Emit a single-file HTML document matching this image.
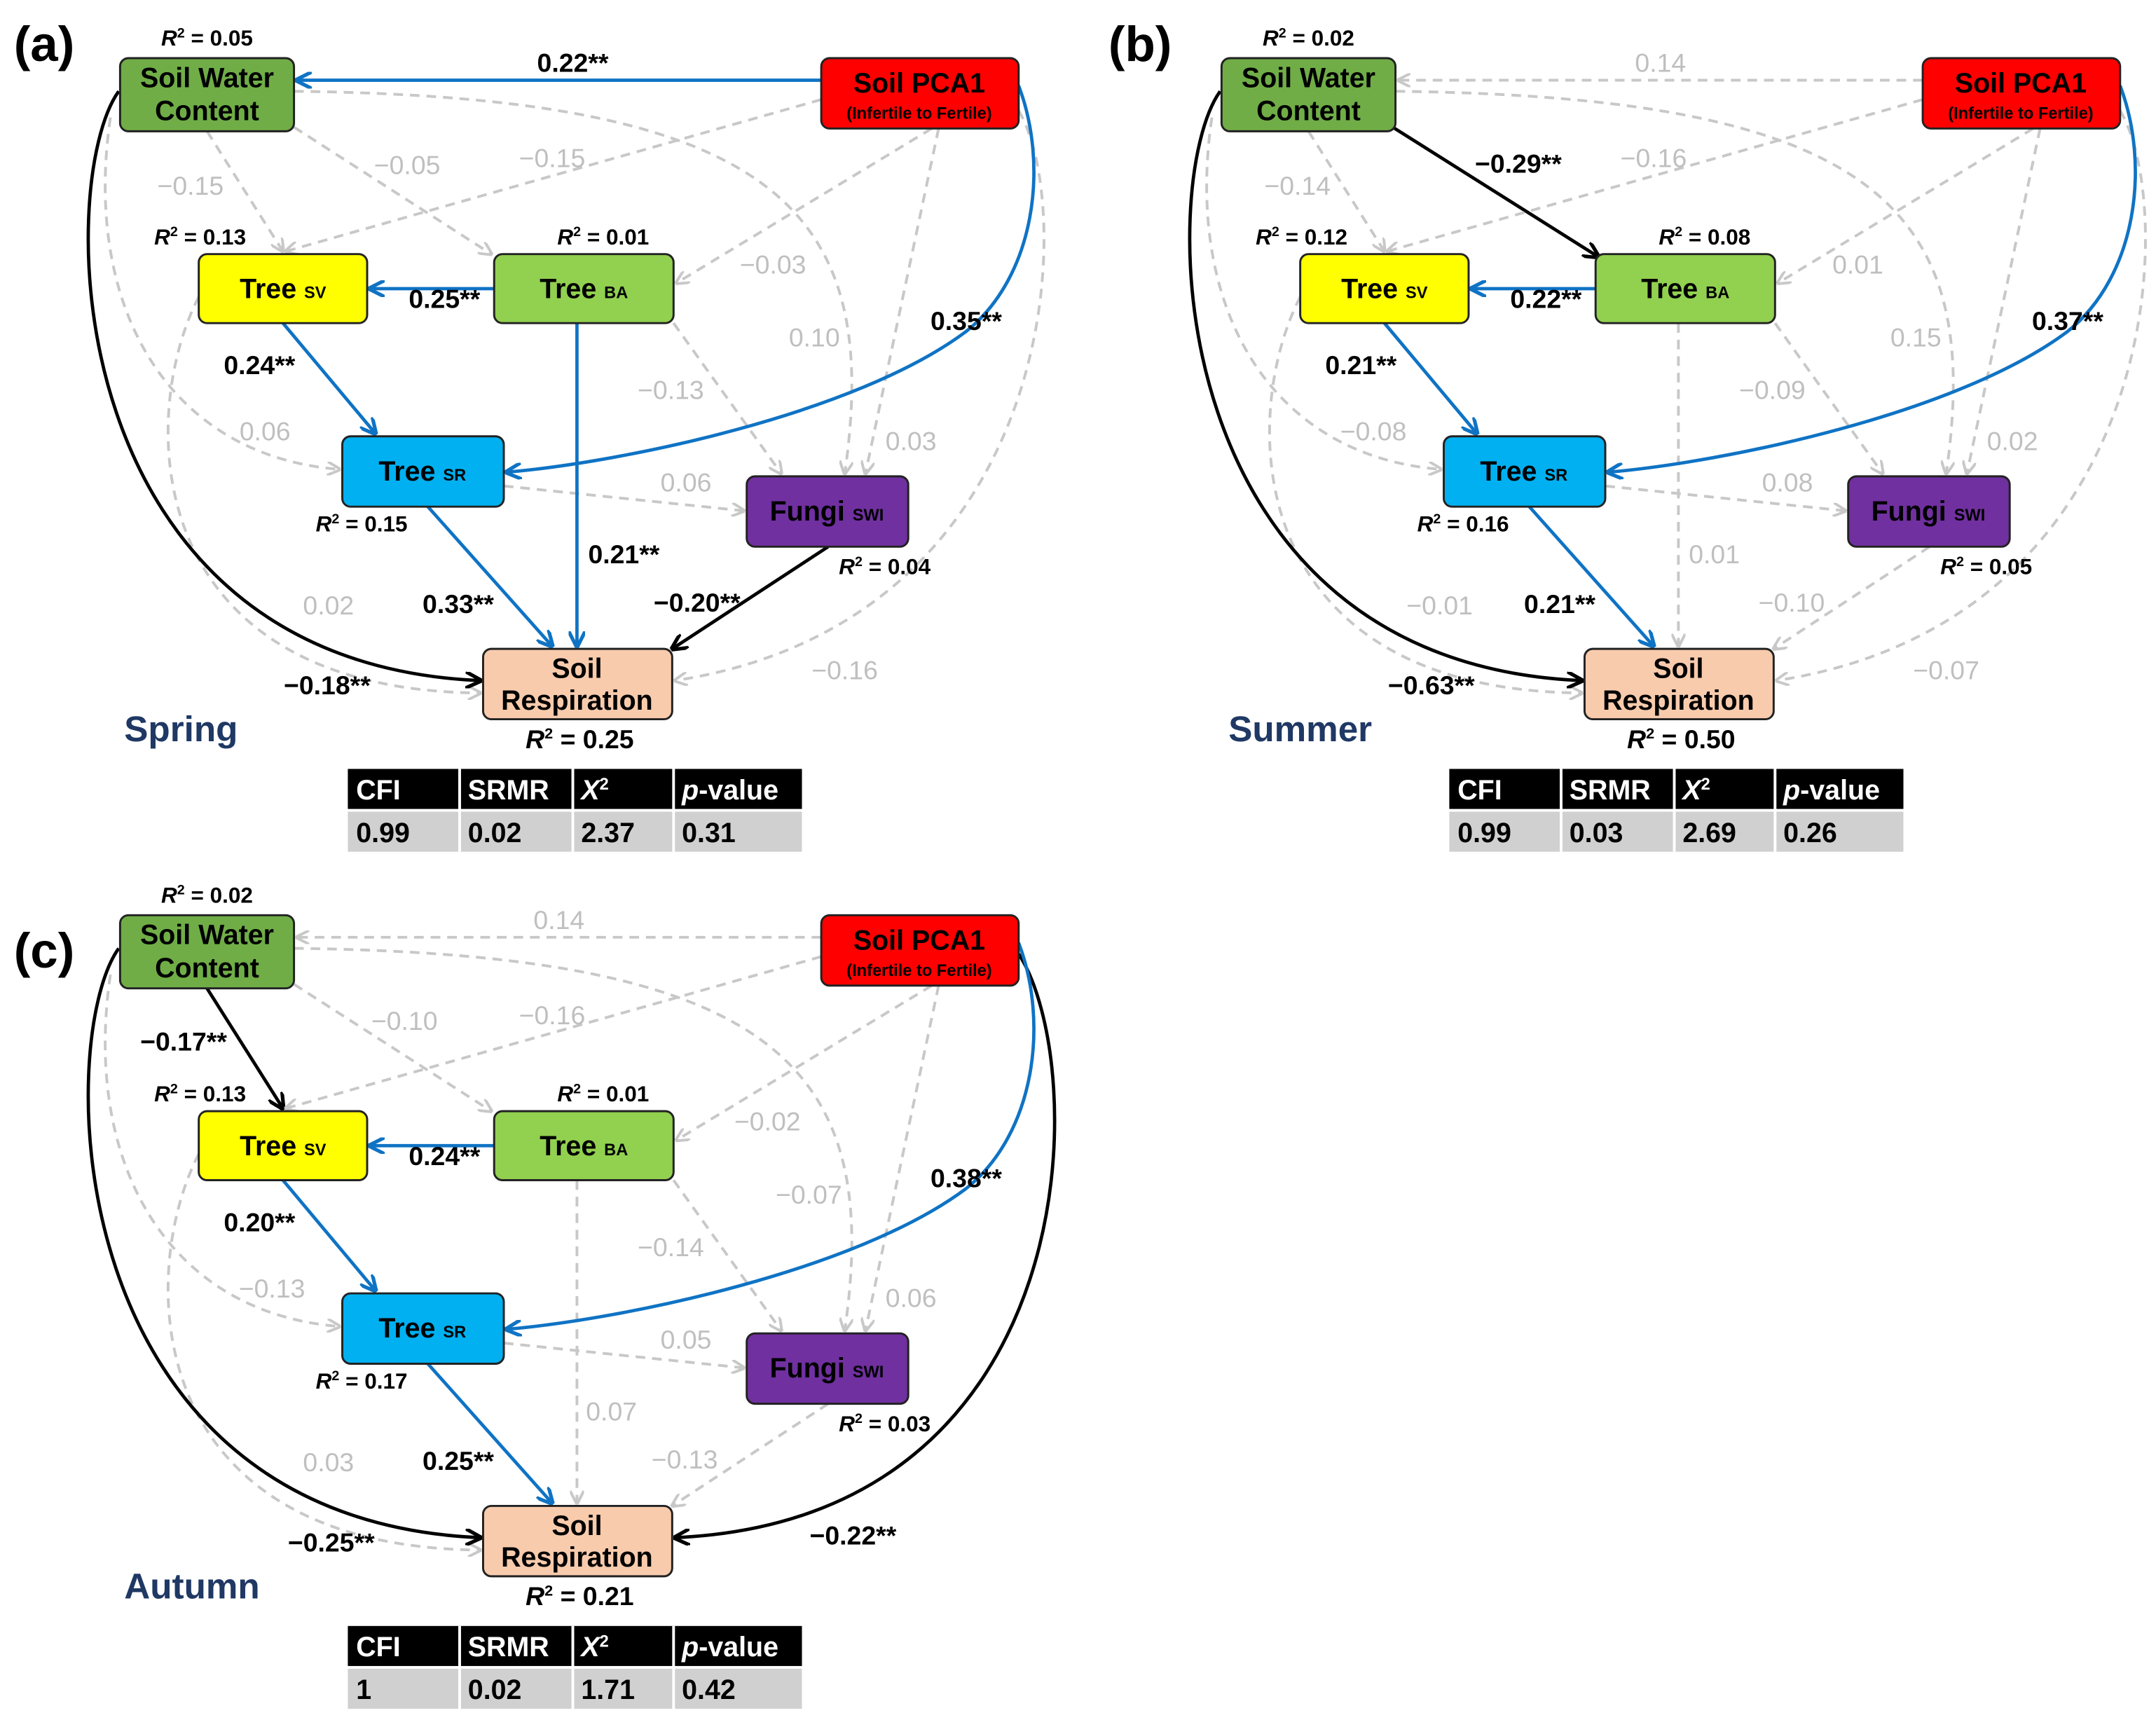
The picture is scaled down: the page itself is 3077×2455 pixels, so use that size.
<!DOCTYPE html>
<html><head><meta charset="utf-8"><style>
html,body{margin:0;padding:0;background:#fff}
svg{display:block}
text{font-family:"Liberation Sans",Arial,sans-serif}
.b{font-weight:bold;fill:#000}
.g{fill:#bfbfbf;font-size:19px}
.k{font-weight:bold;font-size:19px;fill:#000}
.r{font-weight:bold;font-size:16px;fill:#000}
.n{font-weight:bold;font-size:20px}
.s{font-size:12px;font-weight:bold}
.dash{fill:none;stroke:#c8c8c8;stroke-width:2;stroke-dasharray:7,5;marker-end:url(#ag)}
.blue{fill:none;stroke:#0f73c4;stroke-width:2.4;marker-end:url(#ab)}
.blk{fill:none;stroke:#000;stroke-width:2.4;marker-end:url(#ak)}
.th{font-weight:bold;font-size:20px;fill:#fff}
.td{font-weight:bold;font-size:20px;fill:#000}
</style></head><body>
<svg width="3077" height="2455" viewBox="0 0 1562 1246" xmlns="http://www.w3.org/2000/svg">
<defs>
<marker id="ag" viewBox="0 0 10 10" refX="9" refY="5" markerWidth="5" markerHeight="5" orient="auto"><path d="M0,0 L10,5 L0,10" fill="none" stroke="#c8c8c8" stroke-width="2"/></marker>
<marker id="ab" viewBox="0 0 10 10" refX="9" refY="5" markerWidth="5" markerHeight="5" orient="auto"><path d="M0,0 L10,5 L0,10" fill="none" stroke="#0f73c4" stroke-width="2.2"/></marker>
<marker id="ak" viewBox="0 0 10 10" refX="9" refY="5" markerWidth="5" markerHeight="5" orient="auto"><path d="M0,0 L10,5 L0,10" fill="none" stroke="#000" stroke-width="2.2"/></marker>
</defs>

<!-- ========== PANEL A ========== -->
<g>
<text x="10" y="44" class="b" font-size="36">(a)</text>
<path class="blue" d="M595,58 L215,58"/>
<path class="dash" d="M150,95 L205,182"/>
<path class="dash" d="M213,92 L356,184"/>
<path class="dash" d="M595,72 L207,182"/>
<path class="dash" d="M675,93 L490,205"/>
<path class="dash" d="M680,93 L627,343"/>
<path class="dash" d="M213,66 C560,70 640,150 612,343"/>
<path class="dash" d="M80,85 C60,220 120,330 246,340"/>
<path class="dash" d="M144,215 C100,300 100,500 348,502"/>
<path class="blue" d="M358,209 L268,209"/>
<path class="blue" d="M205,234 L272,314"/>
<path class="dash" d="M488,234 L566,343"/>
<path class="dash" d="M365,352 L539,370"/>
<path class="blue" d="M418,234 L418,468"/>
<path class="blue" d="M310,367 L400,468"/>
<path class="blk" d="M600,396 L487,470"/>
<path class="blk" d="M86,66 C40,130 40,480 348,493"/>
<path class="dash" d="M738,80 C780,150 770,450 489,493"/>
<path class="blue" d="M738,62 C760,120 750,200 700,240 C620,300 450,335 367,342"/>

<rect x="87" y="42" width="126" height="53" rx="6" fill="#70ad47" stroke="#222" stroke-width="1.5"/>
<text x="150" y="63" class="n" text-anchor="middle">Soil Water</text><text x="150" y="87" class="n" text-anchor="middle">Content</text>
<rect x="595" y="42" width="143" height="51" rx="6" fill="#ff0000" stroke="#222" stroke-width="1.5"/>
<text x="666" y="67" class="n" text-anchor="middle">Soil PCA1</text><text x="666" y="86" class="s" text-anchor="middle">(Infertile to Fertile)</text>
<rect x="144" y="184" width="122" height="50" rx="6" fill="#ffff00" stroke="#222" stroke-width="1.5"/>
<text x="205" y="216" class="n" text-anchor="middle">Tree <tspan class="s" font-size="13">SV</tspan></text>
<rect x="358" y="184" width="130" height="50" rx="6" fill="#92d050" stroke="#222" stroke-width="1.5"/>
<text x="423" y="216" class="n" text-anchor="middle">Tree <tspan class="s" font-size="13">BA</tspan></text>
<rect x="248" y="316" width="117" height="51" rx="6" fill="#00b0f0" stroke="#222" stroke-width="1.5"/>
<text x="306" y="348" class="n" text-anchor="middle">Tree <tspan class="s" font-size="13">SR</tspan></text>
<rect x="541" y="345" width="117" height="51" rx="6" fill="#7030a0" stroke="#222" stroke-width="1.5"/>
<text x="599" y="377" class="n" text-anchor="middle">Fungi <tspan class="s" font-size="13">SWI</tspan></text>
<rect x="350" y="470" width="137" height="51" rx="6" fill="#f8cbad" stroke="#222" stroke-width="1.5"/>
<text x="418" y="491" class="n" text-anchor="middle">Soil</text><text x="418" y="514" class="n" text-anchor="middle">Respiration</text>

<text x="150" y="33" class="r" text-anchor="middle"><tspan font-style="italic">R</tspan><tspan font-size="10" dy="-6">2</tspan><tspan dy="6"> = 0.05</tspan></text>
<text x="145" y="177" class="r" text-anchor="middle"><tspan font-style="italic">R</tspan><tspan font-size="10" dy="-6">2</tspan><tspan dy="6"> = 0.13</tspan></text>
<text x="437" y="177" class="r" text-anchor="middle"><tspan font-style="italic">R</tspan><tspan font-size="10" dy="-6">2</tspan><tspan dy="6"> = 0.01</tspan></text>
<text x="262" y="385" class="r" text-anchor="middle"><tspan font-style="italic">R</tspan><tspan font-size="10" dy="-6">2</tspan><tspan dy="6"> = 0.15</tspan></text>
<text x="641" y="416" class="r" text-anchor="middle"><tspan font-style="italic">R</tspan><tspan font-size="10" dy="-6">2</tspan><tspan dy="6"> = 0.04</tspan></text>
<text x="420" y="542" class="k" text-anchor="middle"><tspan font-style="italic">R</tspan><tspan font-size="11" dy="-7">2</tspan><tspan dy="7"> = 0.25</tspan></text>

<text x="415" y="52" class="k" text-anchor="middle">0.22**</text>
<text x="138" y="141" class="g" text-anchor="middle">−0.15</text>
<text x="295" y="126" class="g" text-anchor="middle">−0.05</text>
<text x="400" y="121" class="g" text-anchor="middle">−0.15</text>
<text x="560" y="198" class="g" text-anchor="middle">−0.03</text>
<text x="590" y="251" class="g" text-anchor="middle">0.10</text>
<text x="700" y="239" class="k" text-anchor="middle">0.35**</text>
<text x="322" y="223" class="k" text-anchor="middle">0.25**</text>
<text x="188" y="271" class="k" text-anchor="middle">0.24**</text>
<text x="486" y="289" class="g" text-anchor="middle">−0.13</text>
<text x="192" y="319" class="g" text-anchor="middle">0.06</text>
<text x="660" y="326" class="g" text-anchor="middle">0.03</text>
<text x="497" y="356" class="g" text-anchor="middle">0.06</text>
<text x="452" y="408" class="k" text-anchor="middle">0.21**</text>
<text x="238" y="445" class="g" text-anchor="middle">0.02</text>
<text x="332" y="444" class="k" text-anchor="middle">0.33**</text>
<text x="505" y="443" class="k" text-anchor="middle">−0.20**</text>
<text x="237" y="503" class="k" text-anchor="middle">−0.18**</text>
<text x="612" y="492" class="g" text-anchor="middle">−0.16</text>
<text x="90" y="537" font-size="26" font-weight="bold" fill="#1f3864">Spring</text>

<rect x="252" y="557" width="329" height="29" fill="#000"/>
<rect x="252" y="588" width="329" height="29" fill="#d0d0d0"/>
<line x1="333" y1="557" x2="333" y2="617" stroke="#fff" stroke-width="2"/>
<line x1="415" y1="557" x2="415" y2="617" stroke="#fff" stroke-width="2"/>
<line x1="488" y1="557" x2="488" y2="617" stroke="#fff" stroke-width="2"/>
<text x="258" y="579" class="th">CFI</text><text x="339" y="579" class="th">SRMR</text><text x="421" y="579" class="th"><tspan font-style="italic">X</tspan><tspan font-size="12" dy="-7">2</tspan></text><text x="494" y="579" class="th"><tspan font-style="italic">p</tspan>-value</text>
<text x="258" y="610" class="td">0.99</text><text x="339" y="610" class="td">0.02</text><text x="421" y="610" class="td">2.37</text><text x="494" y="610" class="td">0.31</text>
</g>

<!-- ========== PANEL B ========== -->
<g transform="translate(798,0)">
<text x="5" y="44" class="b" font-size="36">(b)</text>
<path class="dash" d="M595,58 L215,58"/>
<path class="dash" d="M150,95 L205,182"/>
<path class="blk" d="M211,92 L360,186"/>
<path class="dash" d="M595,72 L207,182"/>
<path class="dash" d="M675,93 L490,205"/>
<path class="dash" d="M680,93 L627,343"/>
<path class="dash" d="M213,66 C560,70 640,150 612,343"/>
<path class="dash" d="M80,85 C60,220 120,330 246,340"/>
<path class="dash" d="M144,215 C100,300 100,500 348,502"/>
<path class="blue" d="M358,209 L268,209"/>
<path class="blue" d="M205,234 L272,314"/>
<path class="dash" d="M488,234 L566,343"/>
<path class="dash" d="M365,352 L539,370"/>
<path class="dash" d="M418,234 L418,468"/>
<path class="blue" d="M310,367 L400,468"/>
<path class="dash" d="M600,396 L487,470"/>
<path class="blk" d="M86,66 C40,130 40,480 348,493"/>
<path class="dash" d="M738,80 C780,150 770,450 489,493"/>
<path class="blue" d="M738,62 C760,120 750,200 700,240 C620,300 450,335 367,342"/>

<rect x="87" y="42" width="126" height="53" rx="6" fill="#70ad47" stroke="#222" stroke-width="1.5"/>
<text x="150" y="63" class="n" text-anchor="middle">Soil Water</text><text x="150" y="87" class="n" text-anchor="middle">Content</text>
<rect x="595" y="42" width="143" height="51" rx="6" fill="#ff0000" stroke="#222" stroke-width="1.5"/>
<text x="666" y="67" class="n" text-anchor="middle">Soil PCA1</text><text x="666" y="86" class="s" text-anchor="middle">(Infertile to Fertile)</text>
<rect x="144" y="184" width="122" height="50" rx="6" fill="#ffff00" stroke="#222" stroke-width="1.5"/>
<text x="205" y="216" class="n" text-anchor="middle">Tree <tspan class="s" font-size="13">SV</tspan></text>
<rect x="358" y="184" width="130" height="50" rx="6" fill="#92d050" stroke="#222" stroke-width="1.5"/>
<text x="423" y="216" class="n" text-anchor="middle">Tree <tspan class="s" font-size="13">BA</tspan></text>
<rect x="248" y="316" width="117" height="51" rx="6" fill="#00b0f0" stroke="#222" stroke-width="1.5"/>
<text x="306" y="348" class="n" text-anchor="middle">Tree <tspan class="s" font-size="13">SR</tspan></text>
<rect x="541" y="345" width="117" height="51" rx="6" fill="#7030a0" stroke="#222" stroke-width="1.5"/>
<text x="599" y="377" class="n" text-anchor="middle">Fungi <tspan class="s" font-size="13">SWI</tspan></text>
<rect x="350" y="470" width="137" height="51" rx="6" fill="#f8cbad" stroke="#222" stroke-width="1.5"/>
<text x="418" y="491" class="n" text-anchor="middle">Soil</text><text x="418" y="514" class="n" text-anchor="middle">Respiration</text>

<text x="150" y="33" class="r" text-anchor="middle"><tspan font-style="italic">R</tspan><tspan font-size="10" dy="-6">2</tspan><tspan dy="6"> = 0.02</tspan></text>
<text x="145" y="177" class="r" text-anchor="middle"><tspan font-style="italic">R</tspan><tspan font-size="10" dy="-6">2</tspan><tspan dy="6"> = 0.12</tspan></text>
<text x="437" y="177" class="r" text-anchor="middle"><tspan font-style="italic">R</tspan><tspan font-size="10" dy="-6">2</tspan><tspan dy="6"> = 0.08</tspan></text>
<text x="262" y="385" class="r" text-anchor="middle"><tspan font-style="italic">R</tspan><tspan font-size="10" dy="-6">2</tspan><tspan dy="6"> = 0.16</tspan></text>
<text x="641" y="416" class="r" text-anchor="middle"><tspan font-style="italic">R</tspan><tspan font-size="10" dy="-6">2</tspan><tspan dy="6"> = 0.05</tspan></text>
<text x="420" y="542" class="k" text-anchor="middle"><tspan font-style="italic">R</tspan><tspan font-size="11" dy="-7">2</tspan><tspan dy="7"> = 0.50</tspan></text>

<text x="405" y="52" class="g" text-anchor="middle">0.14</text>
<text x="142" y="141" class="g" text-anchor="middle">−0.14</text>
<text x="302" y="125" class="k" text-anchor="middle">−0.29**</text>
<text x="400" y="121" class="g" text-anchor="middle">−0.16</text>
<text x="548" y="198" class="g" text-anchor="middle">0.01</text>
<text x="590" y="251" class="g" text-anchor="middle">0.15</text>
<text x="700" y="239" class="k" text-anchor="middle">0.37**</text>
<text x="322" y="223" class="k" text-anchor="middle">0.22**</text>
<text x="188" y="271" class="k" text-anchor="middle">0.21**</text>
<text x="486" y="289" class="g" text-anchor="middle">−0.09</text>
<text x="197" y="319" class="g" text-anchor="middle">−0.08</text>
<text x="660" y="326" class="g" text-anchor="middle">0.02</text>
<text x="497" y="356" class="g" text-anchor="middle">0.08</text>
<text x="444" y="408" class="g" text-anchor="middle">0.01</text>
<text x="245" y="445" class="g" text-anchor="middle">−0.01</text>
<text x="332" y="444" class="k" text-anchor="middle">0.21**</text>
<text x="500" y="443" class="g" text-anchor="middle">−0.10</text>
<text x="239" y="503" class="k" text-anchor="middle">−0.63**</text>
<text x="612" y="492" class="g" text-anchor="middle">−0.07</text>
<text x="92" y="537" font-size="26" font-weight="bold" fill="#1f3864">Summer</text>

<rect x="252" y="557" width="329" height="29" fill="#000"/>
<rect x="252" y="588" width="329" height="29" fill="#d0d0d0"/>
<line x1="333" y1="557" x2="333" y2="617" stroke="#fff" stroke-width="2"/>
<line x1="415" y1="557" x2="415" y2="617" stroke="#fff" stroke-width="2"/>
<line x1="488" y1="557" x2="488" y2="617" stroke="#fff" stroke-width="2"/>
<text x="258" y="579" class="th">CFI</text><text x="339" y="579" class="th">SRMR</text><text x="421" y="579" class="th"><tspan font-style="italic">X</tspan><tspan font-size="12" dy="-7">2</tspan></text><text x="494" y="579" class="th"><tspan font-style="italic">p</tspan>-value</text>
<text x="258" y="610" class="td">0.99</text><text x="339" y="610" class="td">0.03</text><text x="421" y="610" class="td">2.69</text><text x="494" y="610" class="td">0.26</text>
</g>

<!-- ========== PANEL C ========== -->
<g transform="translate(0,621)">
<text x="10" y="80" class="b" font-size="36">(c)</text>
<path class="dash" d="M595,58 L215,58"/>
<path class="blk" d="M150,95 L205,182"/>
<path class="dash" d="M213,92 L356,184"/>
<path class="dash" d="M595,72 L207,182"/>
<path class="dash" d="M675,93 L490,205"/>
<path class="dash" d="M680,93 L627,343"/>
<path class="dash" d="M213,66 C560,70 640,150 612,343"/>
<path class="dash" d="M80,85 C60,220 120,330 246,340"/>
<path class="dash" d="M144,215 C100,300 100,500 348,502"/>
<path class="blue" d="M358,209 L268,209"/>
<path class="blue" d="M205,234 L272,314"/>
<path class="dash" d="M488,234 L566,343"/>
<path class="dash" d="M365,352 L539,370"/>
<path class="dash" d="M418,234 L418,468"/>
<path class="blue" d="M310,367 L400,468"/>
<path class="dash" d="M600,396 L487,470"/>
<path class="blk" d="M86,66 C40,130 40,480 348,493"/>
<path class="blk" d="M738,70 C790,150 790,480 489,493"/>
<path class="blue" d="M738,62 C760,120 750,200 700,240 C620,300 450,335 367,342"/>

<rect x="87" y="42" width="126" height="53" rx="6" fill="#70ad47" stroke="#222" stroke-width="1.5"/>
<text x="150" y="63" class="n" text-anchor="middle">Soil Water</text><text x="150" y="87" class="n" text-anchor="middle">Content</text>
<rect x="595" y="42" width="143" height="51" rx="6" fill="#ff0000" stroke="#222" stroke-width="1.5"/>
<text x="666" y="67" class="n" text-anchor="middle">Soil PCA1</text><text x="666" y="86" class="s" text-anchor="middle">(Infertile to Fertile)</text>
<rect x="144" y="184" width="122" height="50" rx="6" fill="#ffff00" stroke="#222" stroke-width="1.5"/>
<text x="205" y="216" class="n" text-anchor="middle">Tree <tspan class="s" font-size="13">SV</tspan></text>
<rect x="358" y="184" width="130" height="50" rx="6" fill="#92d050" stroke="#222" stroke-width="1.5"/>
<text x="423" y="216" class="n" text-anchor="middle">Tree <tspan class="s" font-size="13">BA</tspan></text>
<rect x="248" y="316" width="117" height="51" rx="6" fill="#00b0f0" stroke="#222" stroke-width="1.5"/>
<text x="306" y="348" class="n" text-anchor="middle">Tree <tspan class="s" font-size="13">SR</tspan></text>
<rect x="541" y="345" width="117" height="51" rx="6" fill="#7030a0" stroke="#222" stroke-width="1.5"/>
<text x="599" y="377" class="n" text-anchor="middle">Fungi <tspan class="s" font-size="13">SWI</tspan></text>
<rect x="350" y="470" width="137" height="51" rx="6" fill="#f8cbad" stroke="#222" stroke-width="1.5"/>
<text x="418" y="491" class="n" text-anchor="middle">Soil</text><text x="418" y="514" class="n" text-anchor="middle">Respiration</text>

<text x="150" y="33" class="r" text-anchor="middle"><tspan font-style="italic">R</tspan><tspan font-size="10" dy="-6">2</tspan><tspan dy="6"> = 0.02</tspan></text>
<text x="145" y="177" class="r" text-anchor="middle"><tspan font-style="italic">R</tspan><tspan font-size="10" dy="-6">2</tspan><tspan dy="6"> = 0.13</tspan></text>
<text x="437" y="177" class="r" text-anchor="middle"><tspan font-style="italic">R</tspan><tspan font-size="10" dy="-6">2</tspan><tspan dy="6"> = 0.01</tspan></text>
<text x="262" y="385" class="r" text-anchor="middle"><tspan font-style="italic">R</tspan><tspan font-size="10" dy="-6">2</tspan><tspan dy="6"> = 0.17</tspan></text>
<text x="641" y="416" class="r" text-anchor="middle"><tspan font-style="italic">R</tspan><tspan font-size="10" dy="-6">2</tspan><tspan dy="6"> = 0.03</tspan></text>
<text x="420" y="542" class="k" text-anchor="middle"><tspan font-style="italic">R</tspan><tspan font-size="11" dy="-7">2</tspan><tspan dy="7"> = 0.21</tspan></text>

<text x="405" y="52" class="g" text-anchor="middle">0.14</text>
<text x="133" y="140" class="k" text-anchor="middle">−0.17**</text>
<text x="293" y="125" class="g" text-anchor="middle">−0.10</text>
<text x="400" y="121" class="g" text-anchor="middle">−0.16</text>
<text x="556" y="198" class="g" text-anchor="middle">−0.02</text>
<text x="586" y="251" class="g" text-anchor="middle">−0.07</text>
<text x="700" y="239" class="k" text-anchor="middle">0.38**</text>
<text x="322" y="223" class="k" text-anchor="middle">0.24**</text>
<text x="188" y="271" class="k" text-anchor="middle">0.20**</text>
<text x="486" y="289" class="g" text-anchor="middle">−0.14</text>
<text x="197" y="319" class="g" text-anchor="middle">−0.13</text>
<text x="660" y="326" class="g" text-anchor="middle">0.06</text>
<text x="497" y="356" class="g" text-anchor="middle">0.05</text>
<text x="443" y="408" class="g" text-anchor="middle">0.07</text>
<text x="238" y="445" class="g" text-anchor="middle">0.03</text>
<text x="332" y="444" class="k" text-anchor="middle">0.25**</text>
<text x="496" y="443" class="g" text-anchor="middle">−0.13</text>
<text x="240" y="503" class="k" text-anchor="middle">−0.25**</text>
<text x="618" y="498" class="k" text-anchor="middle">−0.22**</text>
<text x="90" y="537" font-size="26" font-weight="bold" fill="#1f3864">Autumn</text>

<rect x="252" y="557" width="329" height="29" fill="#000"/>
<rect x="252" y="588" width="329" height="29" fill="#d0d0d0"/>
<line x1="333" y1="557" x2="333" y2="617" stroke="#fff" stroke-width="2"/>
<line x1="415" y1="557" x2="415" y2="617" stroke="#fff" stroke-width="2"/>
<line x1="488" y1="557" x2="488" y2="617" stroke="#fff" stroke-width="2"/>
<text x="258" y="579" class="th">CFI</text><text x="339" y="579" class="th">SRMR</text><text x="421" y="579" class="th"><tspan font-style="italic">X</tspan><tspan font-size="12" dy="-7">2</tspan></text><text x="494" y="579" class="th"><tspan font-style="italic">p</tspan>-value</text>
<text x="258" y="610" class="td">1</text><text x="339" y="610" class="td">0.02</text><text x="421" y="610" class="td">1.71</text><text x="494" y="610" class="td">0.42</text>
</g>
</svg>
</body></html>
